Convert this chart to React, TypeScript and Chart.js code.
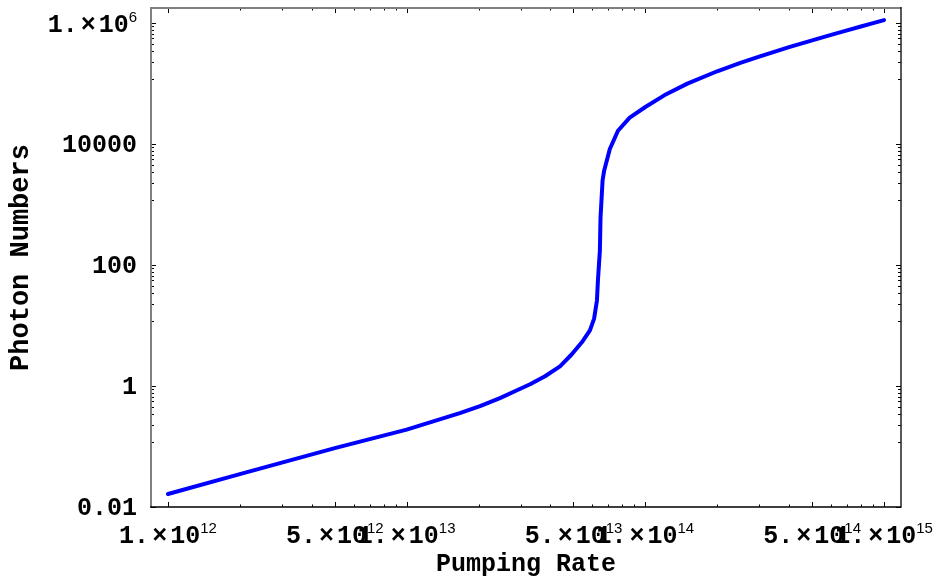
import React, { useEffect, useRef } from 'react';
import { Chart, registerables } from 'chart.js';

Chart.register(...registerables);

// Data
const pumpingRate = [
  1e12, 2e12, 5e12, 1e13, 1.67e13, 2.03e13, 2.46e13, 2.84e13, 3.29e13, 3.8e13,
  4.39e13, 4.92e13, 5.42e13, 5.86e13, 6.1e13, 6.27e13, 6.33e13, 6.45e13, 6.49e13, 6.62e13,
  6.72e13, 7.1e13, 7.68e13, 8.6e13, 1e14, 1.2e14, 1.5e14, 2e14, 2.5e14, 3e14,
  4e14, 5e14, 6e14, 7e14, 8e14, 9e14, 1e15,
];
const photonNumbers = [
  0.0164, 0.035, 0.094, 0.19, 0.356, 0.464, 0.63, 0.82, 1.07, 1.45,
  2.12, 3.35, 5.28, 8.3, 13, 26, 56, 174, 610, 2500,
  3640, 8300, 16600, 27300, 41000, 64000, 100000, 160000, 220000, 280000,
  400000, 520000, 640000, 760000, 880000, 1000000, 1120000,
];

const xTickValues = [1e12, 5e12, 1e13, 5e13, 1e14, 5e14, 1e15];
const xTickMantissas = ['1.', '5.', '1.', '5.', '1.', '5.', '1.'];
const xTickExponents = ['12', '12', '13', '13', '14', '14', '15'];
const yTickValues = [0.01, 1, 100, 10000, 1e6];
const yTickLabels = ['0.01', '1', '100', '10000', '1.×10^6'];
const xRange = [8.49e11, 1.178e15];
const yRange = [0.01, 1.778e6];

const MONO = "'Liberation Mono', 'DejaVu Sans Mono', monospace";
const SUP = "'Liberation Sans', Arial, sans-serif";
const FS = 25;

function sciWidth(ctx: CanvasRenderingContext2D, mant: string, exp: string) {
  ctx.font = `bold ${FS}px ${MONO}`;
  const wm = ctx.measureText(mant).width;
  const wx = ctx.measureText('×').width;
  const wt = ctx.measureText('10').width;
  ctx.font = `15px ${SUP}`;
  const we = ctx.measureText(exp).width;
  return wm + 3 + wx + 3 + wt + we;
}
function drawSci(ctx: CanvasRenderingContext2D, mant: string, exp: string, x0: number, by: number) {
  ctx.textAlign = 'left';
  ctx.textBaseline = 'alphabetic';
  ctx.fillStyle = '#000';
  ctx.font = `bold ${FS}px ${MONO}`;
  let x = x0;
  ctx.fillText(mant, x, by);
  x += ctx.measureText(mant).width + 3;
  ctx.fillText('×', x, by);
  x += ctx.measureText('×').width + 3;
  ctx.fillText('10', x, by);
  x += ctx.measureText('10').width;
  ctx.font = `15px ${SUP}`;
  ctx.fillText(exp, x, by - 10);
}

const frameTicks = {
  id: 'frameTicks',
  afterDraw(chart: any) {
    const { ctx, chartArea, scales } = chart;
    const { left, right, top, bottom } = chartArea;
    const x = scales.x;
    const y = scales.y;
    ctx.save();
    ctx.strokeStyle = '#000';
    ctx.lineWidth = 1;

    // x ticks: 1..9 x 10^k
    const xMarks: number[] = [];
    for (let k = 12; k <= 14; k++) for (let m = 1; m <= 9; m++) xMarks.push(m * Math.pow(10, k));
    xMarks.push(1e15);
    for (const v of xMarks) {
      const major = xTickValues.some((t) => Math.abs(t - v) / t < 1e-9);
      const len = major ? 5 : 2.5;
      const px = Math.round(x.getPixelForValue(v)) + 0.5;
      ctx.beginPath();
      ctx.moveTo(px, bottom);
      ctx.lineTo(px, bottom - len);
      ctx.moveTo(px, top);
      ctx.lineTo(px, top + len);
      ctx.stroke();
    }

    // y ticks: majors every two decades, eight linear subdivisions between
    const yMarks: { v: number; major: boolean }[] = [];
    for (const M of yTickValues) {
      yMarks.push({ v: M, major: true });
      if (M > yTickValues[0]) {
        const lo = M / 100;
        for (let j = 1; j <= 8; j++) yMarks.push({ v: lo + (j * (M - lo)) / 9, major: false });
      }
    }
    for (const m of yMarks) {
      const len = m.major ? 5 : 3;
      const py = Math.round(y.getPixelForValue(m.v)) + 0.5;
      ctx.beginPath();
      ctx.moveTo(left, py);
      ctx.lineTo(left + len, py);
      ctx.moveTo(right, py);
      ctx.lineTo(right - len, py);
      ctx.stroke();
    }

    // frame
    ctx.strokeStyle = '#808080';
    ctx.lineWidth = 2;
    ctx.beginPath();
    ctx.moveTo(left, bottom);
    ctx.lineTo(left, top);
    ctx.lineTo(right, top);
    ctx.stroke();
    ctx.strokeStyle = '#000';
    ctx.lineWidth = 1.3;
    ctx.beginPath();
    ctx.moveTo(left - 1, bottom);
    ctx.lineTo(right, bottom);
    ctx.lineTo(right, top - 1);
    ctx.stroke();

    // x tick labels
    xTickValues.forEach((v, i) => {
      const px = x.getPixelForValue(v);
      const w = sciWidth(ctx, xTickMantissas[i], xTickExponents[i]);
      drawSci(ctx, xTickMantissas[i], xTickExponents[i], px - w / 2, bottom + 36);
    });

    // y tick labels
    const labelRight = left - 14;
    yTickValues.forEach((v, i) => {
      const py = y.getPixelForValue(v);
      const lab = yTickLabels[i];
      if (lab.indexOf('^') >= 0) {
        const [base, exp] = lab.split('^');
        const mant = base.split('×')[0];
        const w = sciWidth(ctx, mant, exp);
        drawSci(ctx, mant, exp, labelRight - w, py + 9);
      } else {
        ctx.textAlign = 'right';
        ctx.textBaseline = 'alphabetic';
        ctx.fillStyle = '#000';
        ctx.font = `bold ${FS}px ${MONO}`;
        ctx.fillText(lab, labelRight, py + 8);
      }
    });
    ctx.restore();
  },
};

export default function App() {
  const canvasRef = useRef<HTMLCanvasElement | null>(null);

  useEffect(() => {
    const canvas = canvasRef.current;
    if (!canvas) return;
    const font = { family: MONO, size: FS, weight: 'bold' as const };
    const yTitleFont = { family: MONO, size: 27, weight: 'bold' as const };
    const chart = new Chart(canvas, {
      type: 'line',
      data: {
        datasets: [
          {
            data: pumpingRate.map((p, i) => ({ x: p, y: photonNumbers[i] })),
            borderColor: '#0000ff',
            borderWidth: 4,
            pointRadius: 0,
            tension: 0,
            fill: false,
            borderCapStyle: 'round',
            borderJoinStyle: 'round',
          },
        ],
      },
      options: {
        responsive: false,
        animation: false,
        layout: { padding: { top: 8, right: 35, left: 0, bottom: 0 } },
        plugins: { legend: { display: false }, tooltip: { enabled: false } },
        scales: {
          x: {
            type: 'logarithmic',
            position: 'bottom',
            min: xRange[0],
            max: xRange[1],
            afterBuildTicks: (s: any) => {
              s.ticks = xTickValues.map((v) => ({ value: v }));
            },
            afterFit: (s: any) => {
              s.height = 76;
              s.paddingLeft = 0;
              s.paddingRight = 0;
            },
            ticks: { display: false },
            grid: { display: false },
            border: { display: false },
            title: {
              display: true,
              text: 'Pumping Rate',
              color: '#000',
              font,
              padding: { top: 0, bottom: 3 },
            },
          },
          y: {
            type: 'logarithmic',
            position: 'left',
            min: yRange[0],
            max: yRange[1],
            afterBuildTicks: (s: any) => {
              s.ticks = yTickValues.map((v) => ({ value: v }));
            },
            afterFit: (s: any) => {
              s.width = 151;
              s.paddingTop = 0;
              s.paddingBottom = 0;
            },
            ticks: { display: false },
            grid: { display: false },
            border: { display: false },
            title: {
              display: true,
              text: 'Photon Numbers',
              color: '#000',
              font: yTitleFont,
              padding: { top: 5, bottom: 0 },
            },
          },
        },
      },
      plugins: [frameTicks],
    } as any);
    return () => chart.destroy();
  }, []);

  return (
    <div style={{ position: 'fixed', left: 0, top: 0, width: 936, height: 583, background: '#fff' }}>
      <canvas ref={canvasRef} width={936} height={583} style={{ display: 'block' }} />
    </div>
  );
}
